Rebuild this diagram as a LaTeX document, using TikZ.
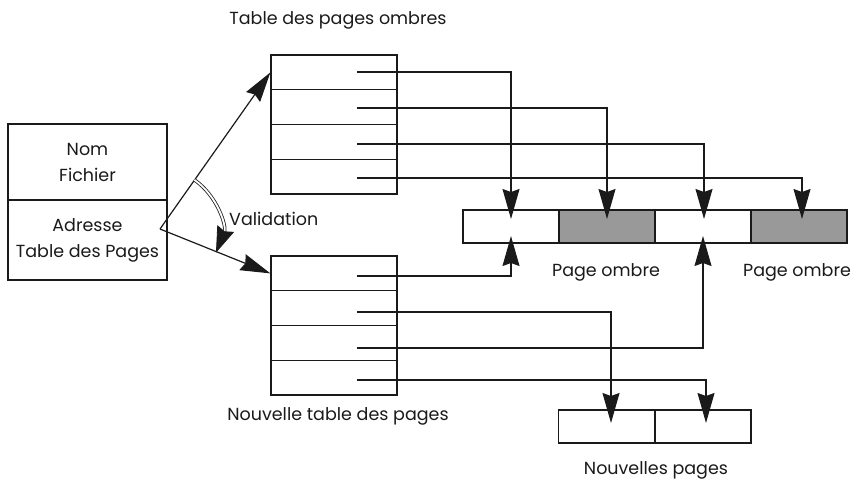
\documentclass[tikz,border=0pt]{standalone}
\usepackage{fontspec}
\setmainfont{Poppins}
\usetikzlibrary{arrows.meta}
\definecolor{shade}{HTML}{999999}
\definecolor{ink}{HTML}{1A1A1A}
\begin{document}
\begin{tikzpicture}[x=1pt,y=-1pt,
  every node/.style={font=\fontsize{17.5}{26}\selectfont, text=ink},
  cell/.style={draw=ink, line width=1.2pt, rectangle, inner sep=0pt, minimum width=126pt, minimum height=34.75pt},
  page/.style={draw=ink, line width=1.2pt, rectangle, inner sep=0pt, minimum width=96pt, minimum height=33pt},
  info/.style={draw=ink, line width=1.2pt, rectangle, inner sep=0pt, minimum width=159pt, align=center},
  ptr/.style={draw=ink, line width=1.2pt, arrows={-Stealth[length=30pt,width=17pt,inset=3pt]}},
  swap/.style={draw=ink, line width=0.8pt, double=white, double distance=1.8pt, arrows={-Stealth[length=26pt,width=18pt,inset=3pt]}},
  txt/.style={inner sep=0pt}]
\useasboundingbox (0,0) rectangle (852,488);

% file descriptor
\node[info, minimum height=76pt] (fname) at (87.5,162) {Nom\\Fichier};
\node[info, minimum height=80pt] (faddr) at (87.5,240) {Adresse\\Table des Pages};
\coordinate (apex) at (160,229);

% shadow page table
\foreach \i/\y in {1/72.4,2/107.1,3/141.9,4/176.6}
  \node[cell] (u\i) at (334,\y) {};
% new page table
\foreach \i/\y in {1/273.4,2/308.1,3/342.9,4/377.6}
  \node[cell] (l\i) at (334,\y) {};

% disk pages
\node[page] (s1) at (511,226.5) {};
\node[page, fill=shade] (s2) at (607,226.5) {};
\node[page] (s3) at (703,226.5) {};
\node[page, fill=shade] (s4) at (799,226.5) {};
\node[page] (n1) at (606.5,426.5) {};
\node[page] (n2) at (703,426.5) {};

% labels
\node[txt] (tso) at (338,20) {Table des pages ombres};
\node[txt] (tnt) at (338,416) {Nouvelle table des pages};
\node[txt] (po1) at (606,272) {Page ombre};
\node[txt] (po2) at (797,272) {Page ombre};
\node[txt] (np) at (656,470) {Nouvelles pages};
\node[txt, anchor=west] (val) at (229,219) {Validation};

% pointer origins in the table entries
\foreach \i/\y in {1/72,2/108,3/144,4/178}
  \coordinate (us\i) at (357,\y);
\foreach \i/\y in {1/276,2/312,3/348,4/380}
  \coordinate (ls\i) at (357,\y);

% pointer targets
\coordinate (t1) at (511,219);
\coordinate (t2) at (607,219);
\coordinate (t3) at (704,219);
\coordinate (t4) at (802,219);
\coordinate (b1) at (511,236);
\coordinate (b3) at (703,236);
\coordinate (c1) at (611,423);
\coordinate (c2) at (706,423);

% descriptor to the two tables
\draw[ptr] (apex) -- (u1.west);
\draw[ptr] (apex) -- (l1.west);

% validation swap
\draw[swap] (apex) ++(-55:60) arc[start angle=-55, end angle=22, radius=61];

% shadow table entries
\draw[ptr] (us1) -| (t1);
\draw[ptr] (us2) -| (t2);
\draw[ptr] (us3) -| (t3);
\draw[ptr] (us4) -| (t4);

% new table entries
\draw[ptr] (ls1) -| (b1);
\draw[ptr] (ls2) -| (c1);
\draw[ptr] (ls3) -| (b3);
\draw[ptr] (ls4) -| (c2);
\end{tikzpicture}
\end{document}
